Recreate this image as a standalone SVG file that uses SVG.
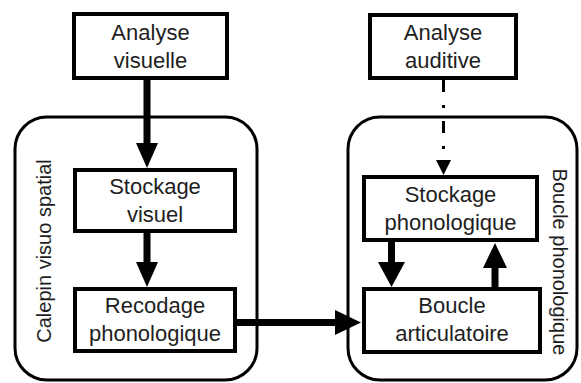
<svg xmlns="http://www.w3.org/2000/svg" width="581" height="383" viewBox="0 0 581 383">
<style>
.box{fill:#fff;stroke:#000;stroke-width:4}
.cont{fill:none;stroke:#000;stroke-width:3}
.t{font-family:"Liberation Sans",Arial,sans-serif;font-size:22px;fill:#1e1e1e;text-anchor:middle}
.v{font-family:"Liberation Sans",Arial,sans-serif;font-size:20px;fill:#1e1e1e;text-anchor:middle}
.ln{stroke:#000;stroke-width:7;fill:none}
.hd{fill:#000}
</style>
<rect width="581" height="383" fill="#fff"/>
<g id="calepin">
<rect class="cont" x="15" y="117" width="242" height="263" rx="32" ry="32"/>
<text class="v" transform="translate(51,251) rotate(-90)">Calepin visuo spatial</text>
</g>
<g id="boucle-phono">
<rect class="cont" x="348" y="117" width="229" height="263" rx="32" ry="32"/>
<text class="v" transform="translate(553,262) rotate(90)">Boucle phonologique</text>
</g>
<g id="connectors">
<line class="ln" x1="147" y1="80" x2="147" y2="145"/>
<polygon class="hd" points="136,143 158,143 147,168"/>
<line class="ln" x1="147" y1="233" x2="147" y2="264"/>
<polygon class="hd" points="136,262 158,262 147,287"/>
<line class="ln" x1="237" y1="322.5" x2="337" y2="322.5"/>
<polygon class="hd" points="335,310 335,335 361,322.5"/>
<line x1="443.5" y1="80" x2="443.5" y2="162" stroke="#000" stroke-width="3" stroke-dasharray="12 13 3 13"/>
<polygon class="hd" points="436,160 451,160 443.5,175"/>
<line class="ln" x1="391.5" y1="242" x2="391.5" y2="264"/>
<polygon class="hd" points="378,262 405,262 391.5,287"/>
<line class="ln" x1="495" y1="287" x2="495" y2="266"/>
<polygon class="hd" points="483,268 507,268 495,243"/>
</g>
<g id="analyse-visuelle">
<rect class="box" x="74" y="14" width="153" height="64"/>
<text class="t" x="150.5" y="40">Analyse</text>
<text class="t" x="150.5" y="68">visuelle</text>
</g>
<g id="stockage-visuel">
<rect class="box" x="75" y="170" width="160" height="61"/>
<text class="t" x="155" y="194">Stockage</text>
<text class="t" x="155" y="222">visuel</text>
</g>
<g id="recodage">
<rect class="box" x="75" y="289" width="160" height="62"/>
<text class="t" x="155" y="313">Recodage</text>
<text class="t" x="155" y="341">phonologique</text>
</g>
<g id="analyse-auditive">
<rect class="box" x="370" y="15" width="146" height="63"/>
<text class="t" x="443" y="40">Analyse</text>
<text class="t" x="443" y="68">auditive</text>
</g>
<g id="stockage-phono">
<rect class="box" x="364" y="177" width="173" height="63"/>
<text class="t" x="450.5" y="202">Stockage</text>
<text class="t" x="450.5" y="230">phonologique</text>
</g>
<g id="boucle-artic">
<rect class="box" x="364" y="289" width="176" height="63"/>
<text class="t" x="452" y="313">Boucle</text>
<text class="t" x="452" y="341">articulatoire</text>
</g>
</svg>
